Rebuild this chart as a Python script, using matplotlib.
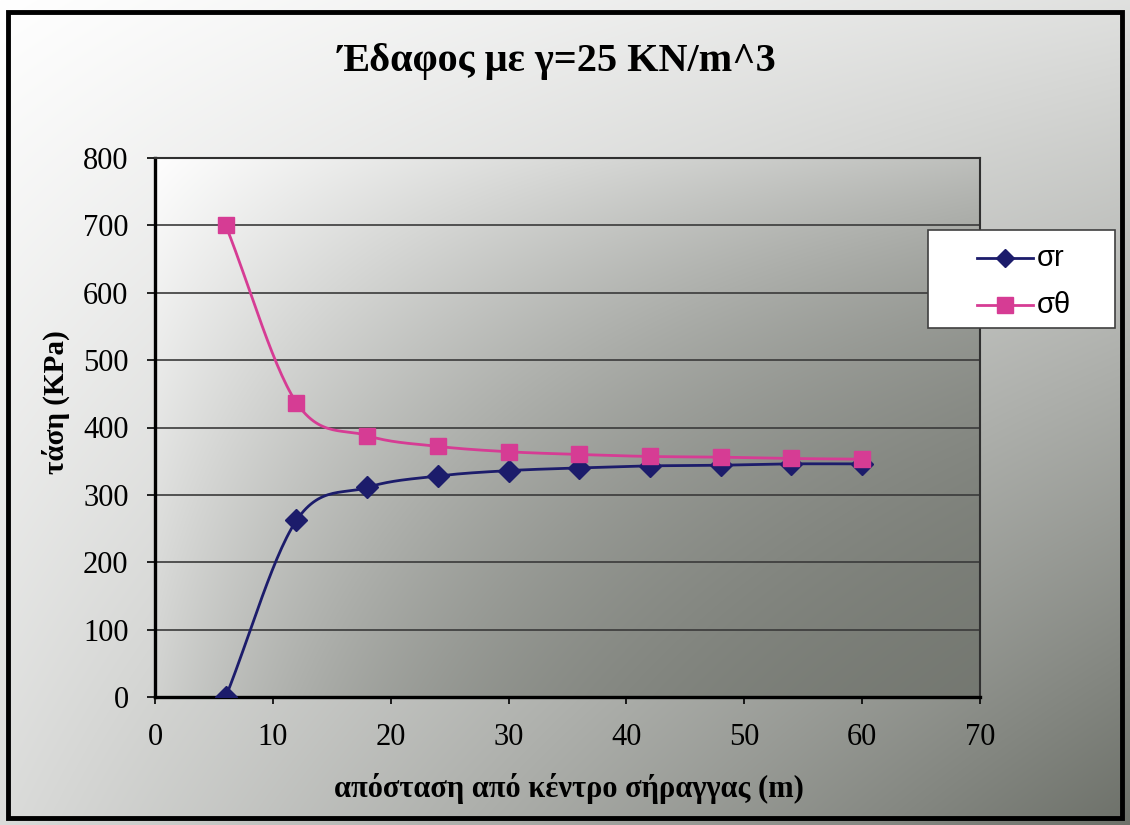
import numpy as np
import matplotlib
matplotlib.use("Agg")
import matplotlib.pyplot as plt
from matplotlib.patches import Rectangle

# ---- data ----
distance = [6, 12, 18, 24, 30, 36, 42, 48, 54, 60]
sigma_r = [0, 262, 311, 328, 336, 340, 343, 344, 346, 346]
sigma_theta = [700, 437, 388, 372, 364, 360, 357, 356, 354, 353]
series_names = ["σr", "σθ"]
title_text = "Έδαφος με γ=25 KN/m^3"
xlabel_text = "απόσταση από κέντρο σήραγγας (m)"
ylabel_text = "τάση (KPa)"
x_ticks = [0, 10, 20, 30, 40, 50, 60, 70]
y_ticks = [0, 100, 200, 300, 400, 500, 600, 700, 800]

W, H = 1130, 825
PL, PR, PT, PB = 155, 980, 158, 697  # plot area in pixels

fig = plt.figure(figsize=(W / 100, H / 100), dpi=100)

# ---- background (scanned-page lighting) ----
bg = fig.add_axes([0, 0, 1, 1], zorder=0)
py, px = np.mgrid[0:H, 0:W].astype(float)
u = px / W
v = py / H
outside = 1.0 - 0.12 * u - 0.14 * v - 0.30 * u * v
t = u * v
inside = 1.06 - 0.62 * (1 - np.exp(-t / 0.24))
mask = (px >= PL) & (px <= PR) & (py >= PT) & (py <= PB)
g = np.where(mask, inside, outside)
g = np.clip(g, 0, 1)
r = np.clip(g - 0.025 * (1 - g), 0, 1)
b = np.clip(g - 0.05 * (1 - g), 0, 1)
bg.imshow(np.dstack([r, g, b]), extent=[0, W, H, 0], aspect="auto",
          interpolation="nearest")
bg.set_xlim(0, W)
bg.set_ylim(H, 0)
bg.axis("off")
bg.add_patch(Rectangle((8, 12), 1122 - 8, 818 - 12, fill=False,
                       edgecolor="black", linewidth=3.5))

# ---- main axes ----
ax = fig.add_axes([PL / W, 1 - PB / H, (PR - PL) / W, (PB - PT) / H], zorder=2)
ax.patch.set_alpha(0)


def smooth(x, y, n=30):
    # smoothed rendering of the line through the data points (Excel style)
    x = np.asarray(x, float)
    y = np.asarray(y, float)
    qx = np.concatenate([[2 * x[0] - x[1]], x, [2 * x[-1] - x[-2]]])
    qy = np.concatenate([[2 * y[0] - y[1]], y, [2 * y[-1] - y[-2]]])
    ox, oy = [], []
    s = np.linspace(0, 1, n)
    for i in range(1, len(qx) - 2):
        p0, p1, p2, p3 = (np.array([qx[j], qy[j]]) for j in range(i - 1, i + 3))
        b1 = p1 + (p2 - p0) / 6
        b2 = p2 - (p3 - p1) / 6
        pts = ((1 - s) ** 3)[:, None] * p1 + (3 * (1 - s) ** 2 * s)[:, None] * b1 + \
              (3 * (1 - s) * s ** 2)[:, None] * b2 + (s ** 3)[:, None] * p2
        ox.extend(pts[:, 0])
        oy.extend(pts[:, 1])
    return ox, oy


c_r = "#1c1c6b"
c_t = "#d63c94"
sx, sy = smooth(distance, sigma_r)
ax.plot(sx, sy, color=c_r, lw=2.0, zorder=3)
ax.plot(distance, sigma_r, linestyle="none", marker="D", ms=11, color=c_r, zorder=4)
tx, ty = smooth(distance, sigma_theta)
ax.plot(tx, ty, color=c_t, lw=2.0, zorder=3)
ax.plot(distance, sigma_theta, linestyle="none", marker="s", ms=11, color=c_t, zorder=4)

ax.set_xlim(0, 70)
ax.set_ylim(0, 800)
ax.set_xticks(x_ticks)
ax.set_yticks(y_ticks)
ax.grid(axis="y", color="#3a3a3a", lw=1.2, zorder=1)
ax.set_axisbelow(True)
for s_ in ["top", "right"]:
    ax.spines[s_].set_color("#303030")
    ax.spines[s_].set_linewidth(1.5)
for s_ in ["left", "bottom"]:
    ax.spines[s_].set_color("black")
    ax.spines[s_].set_linewidth(2.4)
ax.tick_params(axis="y", direction="out", length=6, width=1.2, colors="black",
               pad=13, labelsize=22)
ax.tick_params(axis="x", direction="out", length=5, width=1.2, colors="black",
               pad=14, labelsize=22)
for lab in ax.get_xticklabels() + ax.get_yticklabels():
    lab.set_family("Liberation Serif")

# ---- texts ----
ov = fig.add_axes([0, 0, 1, 1], zorder=6)
ov.set_xlim(0, W)
ov.set_ylim(H, 0)
ov.axis("off")
ov.patch.set_alpha(0)

ov.text(557, 62, title_text, ha="center", va="center",
        family="Liberation Serif", weight="bold", fontsize=29)
ov.text(569, 789, xlabel_text, ha="center", va="center",
        family="Liberation Serif", weight="bold", fontsize=22)
ov.text(56, 402, ylabel_text, ha="center", va="center", rotation=90,
        family="Liberation Serif", weight="bold", fontsize=21)

# ---- legend ----
ov.add_patch(Rectangle((928, 230), 1115 - 928, 328 - 230, facecolor="white",
                       edgecolor="#404040", linewidth=1.2))
legend_rows = [(258, c_r, "D", 9.5), (305, c_t, "s", 11)]
for (yy, col, mk, ms), name in zip(legend_rows, series_names):
    ov.plot([977, 1033], [yy, yy], color=col, lw=2.0)
    ov.plot([1005], [yy], marker=mk, ms=ms, color=col, linestyle="none")
    ov.text(1037, yy, name, ha="left", va="center",
            family="Liberation Sans", fontsize=21)

fig.savefig("out.png", dpi=100)
